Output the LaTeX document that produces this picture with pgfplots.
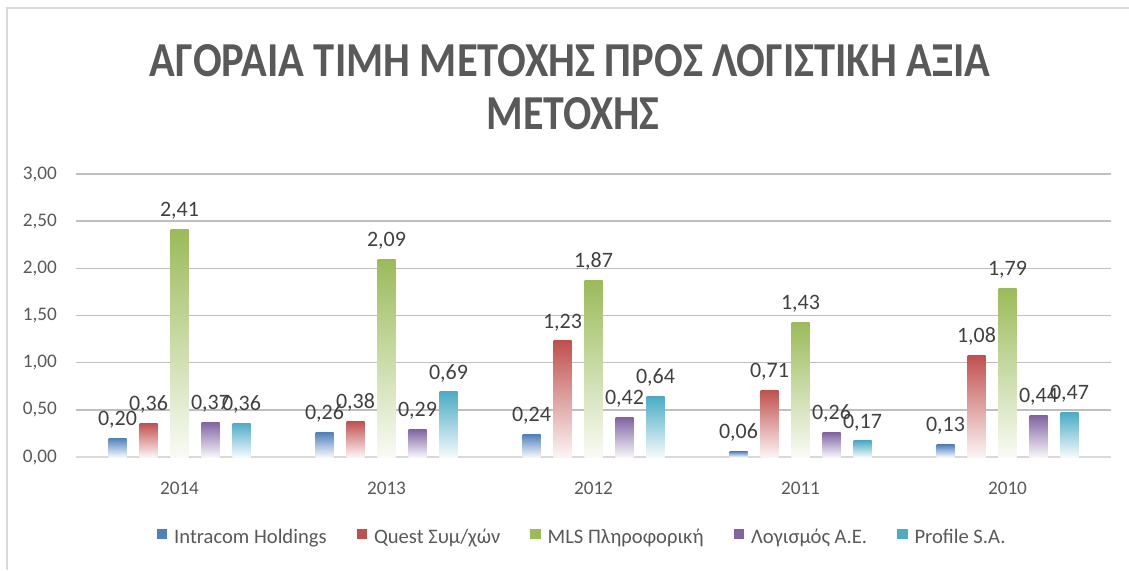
\documentclass[border=0pt]{standalone}
\usepackage{fontspec}
\setmainfont{Carlito}
\usepackage{pgfplots}
\usepackage{pgfplotstable}
\pgfplotsset{compat=1.18}
\definecolor{cA}{HTML}{4F81BD}
\definecolor{cB}{HTML}{C0504D}
\definecolor{cC}{HTML}{9BBB59}
\definecolor{cD}{HTML}{8064A2}
\definecolor{cE}{HTML}{4BACC6}
\definecolor{tgray}{HTML}{595959}
\definecolor{lgray}{HTML}{404040}
\definecolor{grid}{HTML}{D9D9D9}

% x: 0=2014 ... 4=2010
\pgfplotstableread{
x A    B    C    D    E
0 0.20 0.36 2.41 0.37 0.36
1 0.26 0.38 2.09 0.29 0.69
2 0.24 1.23 1.87 0.42 0.64
3 0.06 0.71 1.43 0.26 0.17
4 0.13 1.08 1.79 0.44 0.47
}\data

\begin{document}
\begin{tikzpicture}
\useasboundingbox (0,0) rectangle (564.5pt,285pt);
\draw[grid, line width=1.2pt] (3.5pt,0) -- (3.5pt,281pt) -- (564.5pt,281pt);
\node[text=tgray, inner sep=0] at (285pt,254.5pt) {\resizebox{420pt}{16pt}{\bfseries ΑΓΟΡΑΙΑ ΤΙΜΗ ΜΕΤΟΧΗΣ ΠΡΟΣ ΛΟΓΙΣΤΙΚΗ ΑΞΙΑ}};
\node[text=tgray, inner sep=0] at (286.5pt,228pt) {\resizebox{86.5pt}{16pt}{\bfseries ΜΕΤΟΧΗΣ}};
\begin{axis}[
  at={(38pt,56.5pt)}, anchor=south west, scale only axis,
  width=517.5pt, height=141.5pt,
  ymin=0, ymax=3, xmin=-0.5, xmax=4.5,
  ytick={0,0.5,...,3}, xtick={0,1,2,3,4},
  xticklabels={2014,2013,2012,2011,2010},
  ybar, bar width=9pt,
  axis x line*=bottom, axis y line*=left,
  x axis line style={grid, line width=1pt, -},
  y axis line style={draw=none},
  major tick length=0pt, tick style={draw=none},
  xmajorgrids=false, ymajorgrids, grid style={grid, line width=0.8pt},
  /pgf/number format/assume math mode=true,
  yticklabel style={/pgf/number format/.cd, fixed, fixed zerofill, precision=2, use comma},
  tick label style={font=\fontsize{9.6}{11}\selectfont, text=tgray},
  xticklabel shift=9pt, yticklabel shift=6pt,
  point meta=y,
  nodes near coords={\pgfmathprintnumber[fixed,fixed zerofill,precision=2,use comma]{\pgfplotspointmeta}},
  every node near coord/.append style={font=\fontsize{11}{12}\selectfont, text=lgray, anchor=south, yshift=1.5pt},
  legend columns=-1,
  legend style={draw=none, at={(0.49,-0.286)}, anchor=center, font=\fontsize{10.3}{12}\selectfont, text=tgray,
    /tikz/every even column/.append style={column sep=13pt},
    /tikz/every odd column/.append style={column sep=1.5pt}},
]
% one bar per plot, so that every bar gets its own gradient
\pgfplotsinvokeforeach{0,...,4}{
\addplot[forget plot, bar shift=-31pt, draw=none, top color=cA, bottom color=cA!6, restrict x to domain=#1:#1] table[x=x,y=A]{\data};
\addplot[forget plot, bar shift=-15.5pt, draw=none, top color=cB, bottom color=cB!6, restrict x to domain=#1:#1] table[x=x,y=B]{\data};
\addplot[forget plot, bar shift=0pt, draw=none, top color=cC, bottom color=cC!6, restrict x to domain=#1:#1] table[x=x,y=C]{\data};
\addplot[forget plot, bar shift=15.5pt, draw=none, top color=cD, bottom color=cD!6, restrict x to domain=#1:#1] table[x=x,y=D]{\data};
\addplot[forget plot, bar shift=31pt, draw=none, top color=cE, bottom color=cE!6, restrict x to domain=#1:#1] table[x=x,y=E]{\data};
}
\addlegendimage{legend image code/.code={\fill[cA] (0pt,-0.3pt) rectangle (4.8pt,4.5pt);}}
\addlegendimage{legend image code/.code={\fill[cB] (0pt,-0.3pt) rectangle (4.8pt,4.5pt);}}
\addlegendimage{legend image code/.code={\fill[cC] (0pt,-0.3pt) rectangle (4.8pt,4.5pt);}}
\addlegendimage{legend image code/.code={\fill[cD] (0pt,-0.3pt) rectangle (4.8pt,4.5pt);}}
\addlegendimage{legend image code/.code={\fill[cE] (0pt,-0.3pt) rectangle (4.8pt,4.5pt);}}
\legend{Intracom Holdings, Quest Συμ/χών, MLS Πληροφορική, Λογισμός Α.Ε., Profile S.A.}
\end{axis}
\end{tikzpicture}
\end{document}
